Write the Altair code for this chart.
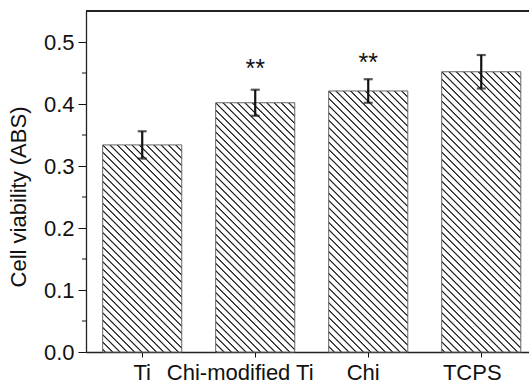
import math
import altair as alt
import pandas as pd

# ---- data ----
categories = ["Ti", "Chi-modified Ti", "Chi", "TCPS"]
viability = [0.334, 0.402, 0.421, 0.452]
errors = [0.022, 0.021, 0.019, 0.027]
star_text = ["", "**", "**", ""]
star_y = [None, 0.463, 0.473, None]
y_major_ticks = [0.0, 0.1, 0.2, 0.3, 0.4, 0.5]
y_minor_ticks = [0.05, 0.15, 0.25, 0.35, 0.45]
label_shift = [0, -15, -5, -9]

# ---- layout / style ----
W, H = 443, 341
YMAX = 0.55
P_IN, P_OUT, ALIGN = 0.3, 0.11, 0.67
FONT = "Liberation Sans"
FS = 22

step = W / (len(categories) - P_IN + 2 * P_OUT)
bandw = step * (1 - P_IN)

df = pd.DataFrame({
    "cat": categories,
    "v": viability,
    "e": errors,
    "star": star_text,
    "sy": star_y,
})
df["lo"] = df["v"] - df["e"]
df["hi"] = df["v"] + df["e"]

minor_df = pd.DataFrame({"t": y_minor_ticks})


def hatch_gradient(value):
    """Diagonal (\\) hatch pattern built as a linear gradient for a bar."""
    w = bandw
    h = value / YMAX * H
    r = h / w
    s = (1 + r) / (1 + r * r)
    x1, y1 = 0.0, 1.0
    x2, y2 = s, 1 - s * r
    D = (w + h) / math.sqrt(2)
    period = 7.3 / math.sqrt(2)
    phase = (h / math.sqrt(2)) % period
    outer, inner = 0.95, 0.25
    stops = [{"offset": 0.0, "color": "#ffffff"}]
    d = phase
    last = 0.0
    while d < D + period:
        pts = [(d - outer, "#ffffff"), (d - inner, "#222222"),
               (d + inner, "#222222"), (d + outer, "#ffffff")]
        for p, c in pts:
            o = min(max(p / D, 0.0), 1.0)
            if o < last:
                o = last
            stops.append({"offset": round(o, 5), "color": c})
            last = o
        d += period
    stops.append({"offset": 1.0, "color": "#ffffff"})
    return {"gradient": "linear", "x1": x1, "y1": y1, "x2": x2, "y2": y2,
            "stops": stops}


offset_expr = {
    "condition": [
        {"test": f"datum.value === '{c}'", "value": s}
        for c, s in zip(categories, label_shift) if s != 0
    ],
    "value": 0,
}

xenc = alt.X(
    "cat:N",
    sort=categories,
    scale=alt.Scale(paddingInner=P_IN, paddingOuter=P_OUT, align=ALIGN),
    axis=alt.Axis(
        title=None, labelAngle=0, labelFont=FONT, labelFontSize=FS,
        labelColor="#111111", tickSize=5, tickColor="#111111",
        domainColor="#222222", domainWidth=1.3, labelPadding=5,
        labelOffset=offset_expr,
    ),
)

yscale = alt.Scale(domain=[0, YMAX], nice=False, zero=True)
yaxis = alt.Axis(
    title="Cell viability (ABS)",
    values=y_major_ticks,
    format=".1f",
    labelFont=FONT, labelFontSize=FS, labelColor="#111111", labelPadding=4,
    tickSize=8, tickColor="#111111", domainColor="#222222", domainWidth=1.3,
    titleFont=FONT, titleFontSize=FS, titleFontWeight="normal",
    titleColor="#111111", titleX=-68, titleY=H / 2 + 15, titleAngle=-90,
    titleBaseline="middle", titleAlign="center",
    grid=False,
)
yenc = alt.Y("v:Q", scale=yscale, axis=yaxis)

base = alt.Chart(df)

layers = []
for c, v in zip(categories, viability):
    layers.append(
        base.transform_filter(alt.datum.cat == c)
        .mark_bar(fill=hatch_gradient(v), stroke="#666666", strokeWidth=1)
        .encode(x=xenc, y=yenc)
    )

err_rule = base.mark_rule(color="#111111", strokeWidth=2.2).encode(
    x=xenc, y=alt.Y("lo:Q", scale=yscale), y2="hi:Q")
cap_lo = base.mark_tick(color="#111111", thickness=2.2, size=9).encode(
    x=xenc, y=alt.Y("lo:Q", scale=yscale))
cap_hi = base.mark_tick(color="#111111", thickness=2.2, size=9).encode(
    x=xenc, y=alt.Y("hi:Q", scale=yscale))
stars = base.transform_filter("isValid(datum.sy)").mark_text(
    font=FONT, fontSize=25, color="#111111", baseline="middle", dy=4
).encode(x=xenc, y=alt.Y("sy:Q", scale=yscale), text="star:N")

minor = alt.Chart(minor_df).mark_rule(color="#111111", strokeWidth=1).encode(
    x=alt.value(-4), x2=alt.value(0), y=alt.Y("t:Q", scale=yscale))

top_line = base.mark_rule(color="#222222", strokeWidth=1.3).encode(
    x=alt.value(0), x2=alt.value(W), y=alt.value(0))

chart = alt.layer(*layers, err_rule, cap_lo, cap_hi, stars, minor, top_line).properties(
    width=W, height=H,
    padding={"left": 86, "top": 11, "right": 0, "bottom": 33},
    autosize=alt.AutoSizeParams(type="none"),
    background="#ffffff",
).configure_view(stroke=None)

chart.save("out.html", embed_options={"renderer": "svg", "actions": False})
